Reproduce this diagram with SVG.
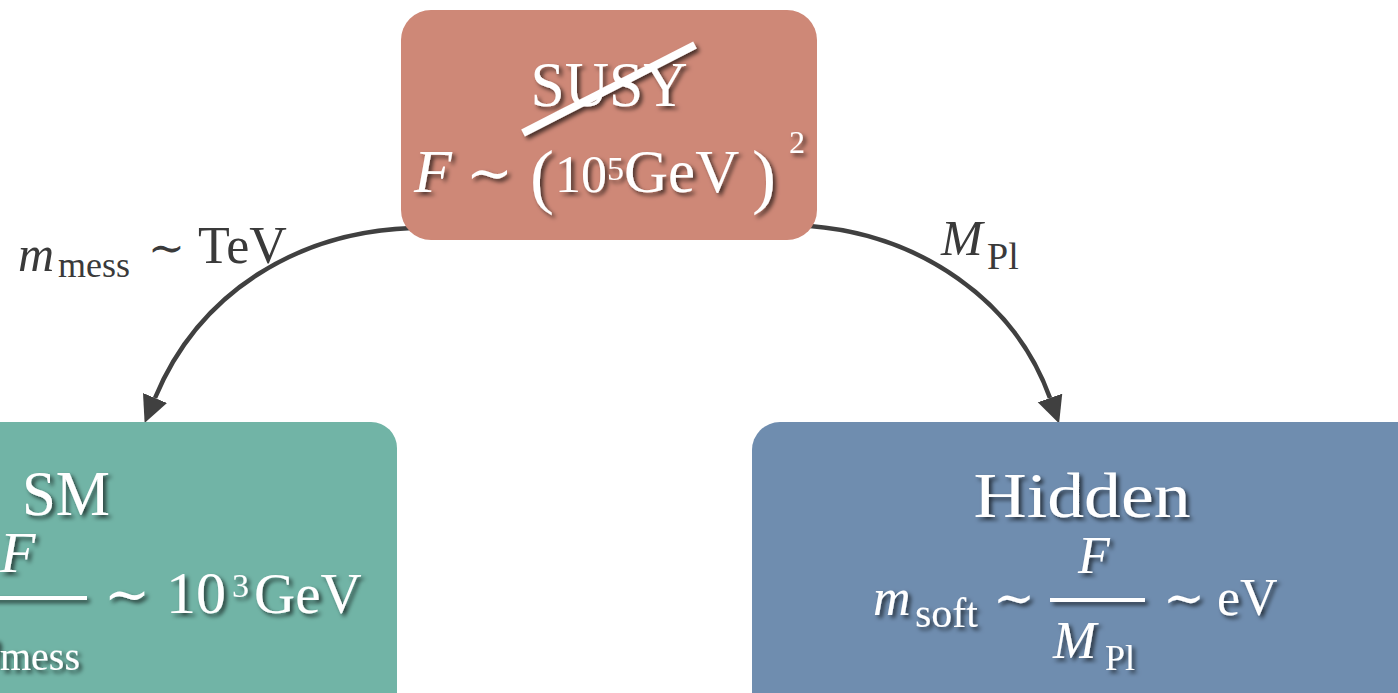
<svg xmlns="http://www.w3.org/2000/svg" width="1398" height="693" viewBox="0 0 1398 693">
<style>
  .t { font-family: "Liberation Serif", "Times New Roman", serif; fill: #ffffff; }
  .i { font-style: italic; }
  .lbl { font-family: "Liberation Serif", "Times New Roman", serif; fill: #3a3a3a; }
  .tl { font-family: "DejaVu Serif", "Liberation Serif", serif; }
  .conn { fill: none; stroke: #404040; stroke-width: 4.5; }
</style>
<defs>
  <filter id="sh" x="-10%" y="-30%" width="130%" height="170%">
    <feDropShadow dx="3" dy="3" stdDeviation="2.2" flood-color="#000" flood-opacity="0.65"/>
  </filter>
  <marker id="arr" markerUnits="userSpaceOnUse" markerWidth="30" markerHeight="28" refX="0" refY="13" orient="auto">
    <path d="M0,0 L27,13 L0,26 z" fill="#404040"/>
  </marker>
</defs>
<rect width="1398" height="693" fill="#ffffff"/>

<g id="connectors">
  <path class="conn" d="M412,228 C300,232 200,290 155,398" marker-end="url(#arr)"/>
  <path class="conn" d="M810,226 C920,235 1015,300 1050,398" marker-end="url(#arr)"/>
  <g id="label-left">
    <text class="lbl i" x="18" y="271" font-size="50">m</text>
    <text class="lbl" x="58" y="277" font-size="36">mess</text>
    <text class="lbl tl" x="148" y="263" font-size="44">∼</text>
    <text class="lbl" x="198" y="263" font-size="52">TeV</text>
  </g>
  <g id="label-right">
    <text class="lbl i" x="941" y="255" font-size="50">M</text>
    <text class="lbl" x="987" y="269" font-size="38">Pl</text>
  </g>
</g>

<g id="node-susy">
  <rect x="401" y="10" width="416" height="230" rx="30" fill="#CE8877"/>
  <g filter="url(#sh)">
    <text class="t" x="609" y="106" font-size="64" text-anchor="middle" textLength="157" lengthAdjust="spacingAndGlyphs">SUSY</text>
    <line x1="523" y1="133" x2="695" y2="45" stroke="#ffffff" stroke-width="8"/>
    <text class="t i" x="414" y="192" font-size="62">F</text>
    <text class="t tl" x="466" y="192" font-size="56">∼</text>
    <text class="t" x="530" y="200" font-size="72">(</text>
    <text class="t" x="555" y="192" font-size="52">10</text>
    <text class="t" x="607" y="180" font-size="34">5</text>
    <text class="t" x="624" y="192" font-size="61">GeV</text>
    <text class="t" x="752" y="200" font-size="72">)</text>
    <text class="t" x="789" y="153" font-size="32">2</text>
  </g>
</g>

<g id="node-sm">
  <rect x="-30" y="422" width="427" height="300" rx="26" fill="#71B4A6"/>
  <g filter="url(#sh)">
    <text class="t" x="22" y="515" font-size="64" textLength="88" lengthAdjust="spacingAndGlyphs">SM</text>
    <text class="t i" x="0" y="572" font-size="58">F</text>
    <rect x="-10" y="596" width="97" height="4" fill="#ffffff"/>
    <text class="t i" x="-40" y="665" font-size="58">m</text>
    <text class="t" x="0" y="670" font-size="40">mess</text>
    <text class="t tl" x="104" y="613" font-size="55">∼</text>
    <text class="t" x="166" y="613" font-size="60">10</text>
    <text class="t" x="232" y="597" font-size="34">3</text>
    <text class="t" x="254" y="613" font-size="57">GeV</text>
  </g>
</g>

<g id="node-hidden">
  <rect x="752" y="422" width="700" height="300" rx="28" fill="#6F8DAF"/>
  <g filter="url(#sh)">
    <text class="t" x="1082" y="517" font-size="64" text-anchor="middle" textLength="217" lengthAdjust="spacingAndGlyphs">Hidden</text>
    <text class="t i" x="873" y="615" font-size="52">m</text>
    <text class="t" x="915" y="627" font-size="42">soft</text>
    <text class="t tl" x="993" y="615" font-size="50">∼</text>
    <rect x="1050" y="598" width="95" height="4" fill="#ffffff"/>
    <text class="t i" x="1078" y="573" font-size="52">F</text>
    <text class="t i" x="1053" y="658" font-size="52">M</text>
    <text class="t" x="1105" y="670" font-size="36">Pl</text>
    <text class="t tl" x="1163" y="615" font-size="50">∼</text>
    <text class="t" x="1217" y="615" font-size="52">eV</text>
  </g>
</g>
</svg>
